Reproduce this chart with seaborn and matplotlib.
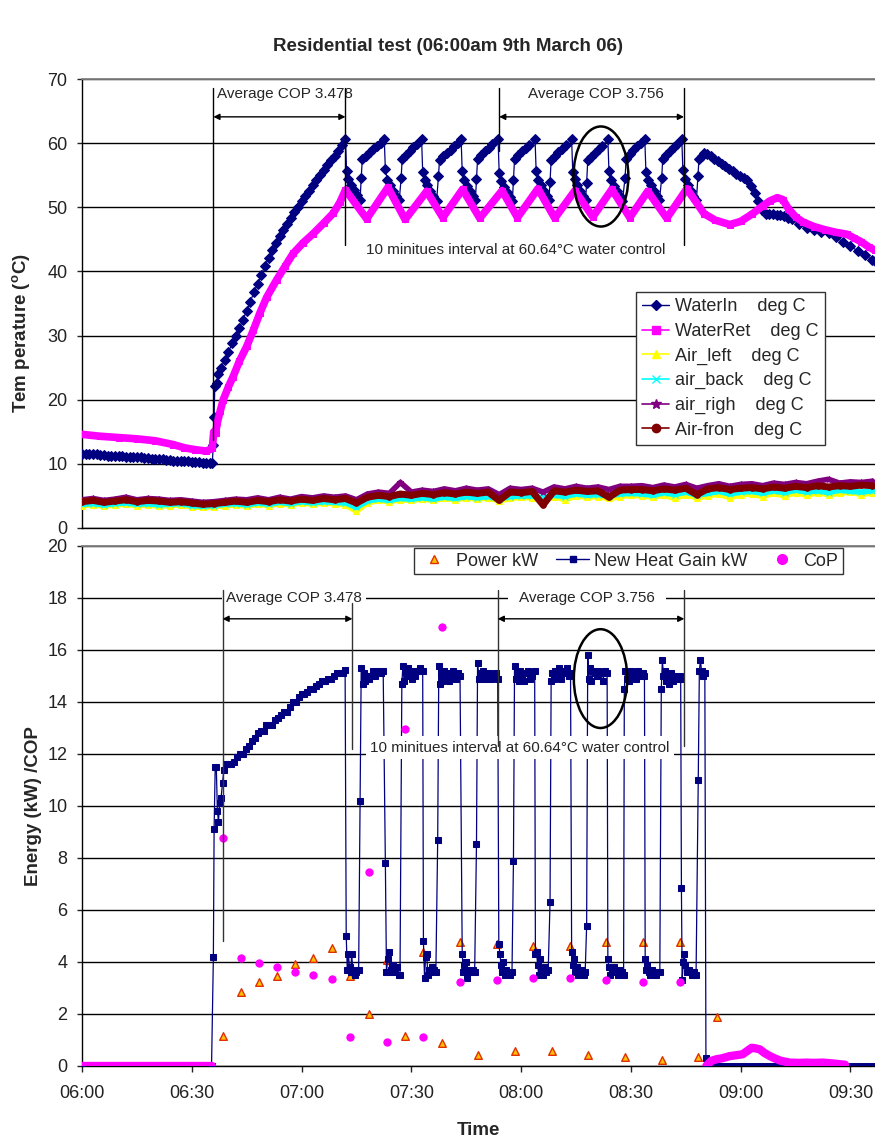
import matplotlib
matplotlib.use("Agg")
import matplotlib.pyplot as plt
import seaborn as sns
import pandas as pd
from matplotlib.patches import Ellipse
from matplotlib.lines import Line2D
from matplotlib.ticker import FuncFormatter, MultipleLocator

# ---------------- data (time = minutes after 06:00) ----------------
water_in = [
    (0, 11.6), (1, 11.6), (2, 11.5), (3, 11.5), (4, 11.5), (5, 11.4), (6, 11.4), (7, 11.3), (8, 11.3),
    (9, 11.3), (10, 11.2), (11, 11.2), (12, 11.1), (13, 11.1), (14, 11.0), (15, 11.0), (16, 11.0),
    (17, 10.9), (18, 10.9), (19, 10.8), (20, 10.8), (21, 10.7), (22, 10.7), (23, 10.6), (24, 10.6),
    (25, 10.5), (26, 10.5), (27, 10.4), (28, 10.4), (29, 10.4), (30, 10.3), (31, 10.3), (32, 10.3),
    (33, 10.2), (34, 10.2), (35, 10.2), (35.6, 10.2),
    (35.9, 13.0), (36.1, 17.3), (36.3, 22.2), (36.8, 22.6), (37.2, 24.0), (38, 25.0), (39, 26.2),
    (40, 27.4), (41, 28.8), (42, 30.0), (43, 31.2), (44, 32.5), (45, 33.9), (46, 35.3), (47, 36.8),
    (48, 38.1), (49, 39.5), (50, 40.9), (51, 42.1), (52, 43.3), (53, 44.4), (54, 45.5), (55, 46.5),
    (56, 47.4), (57, 48.3), (58, 49.2), (59, 50.1), (60, 51.0), (61, 51.8), (62, 52.6), (63, 53.4),
    (64, 54.2), (65, 55.0), (66, 55.8), (67, 56.6), (68, 57.3), (69, 58.0), (70, 58.8), (71, 59.7),
    (72, 60.6),
    (72.3, 55.6), (72.8, 54.4), (73.6, 53.5), (74.4, 52.7), (75.2, 51.9), (76.0, 51.2), (76.3, 54.6),
    (76.6, 57.5), (77.6, 58.0), (78.6, 58.6), (79.6, 59.1), (80.6, 59.6), (81.6, 60.1), (82.6, 60.6),
    (82.9, 55.9), (83.4, 54.3), (84.2, 53.4), (85.0, 52.6), (85.8, 51.8), (86.7, 51.1), (87.2, 54.5),
    (87.5, 57.6), (88.5, 58.2), (89.5, 58.8), (90.5, 59.4), (91.5, 59.9), (92.8, 60.6),
    (93.1, 55.5), (93.6, 54.3), (94.4, 53.4), (95.2, 52.5), (96.0, 51.8), (96.9, 51.0), (97.4, 54.8),
    (97.7, 57.4), (98.7, 58.0), (99.7, 58.5), (100.7, 59.0), (101.7, 59.6), (102.7, 60.1), (103.6, 60.6),
    (103.9, 55.6), (104.4, 54.2), (105.2, 53.3), (106.0, 52.5), (106.8, 51.7), (107.5, 51.1), (107.8, 54.4),
    (108.1, 57.6), (109.1, 58.2), (110.1, 58.8), (111.1, 59.3), (112.1, 59.8), (113.7, 60.6),
    (114.0, 55.4), (114.5, 54.1), (115.3, 53.2), (116.1, 52.4), (116.9, 51.6), (117.6, 51.0), (117.9, 54.3),
    (118.2, 57.5), (119.2, 58.1), (120.2, 58.7), (121.2, 59.2), (122.2, 59.7), (123.8, 60.6),
    (124.1, 55.7), (124.6, 54.3), (125.4, 53.4), (126.2, 52.6), (127.0, 51.7), (127.6, 51.2), (127.9, 54.0),
    (128.2, 57.4), (129.2, 58.0), (130.2, 58.6), (131.2, 59.1), (132.2, 59.7), (133.8, 60.6),
    (134.1, 55.5), (134.6, 54.4), (135.4, 53.4), (136.2, 52.6), (137.0, 51.8), (137.6, 51.1), (137.9, 53.8),
    (138.2, 57.3), (139.2, 57.9), (140.2, 58.5), (141.2, 59.1), (142.2, 59.6), (143.7, 60.6),
    (144.0, 55.6), (144.5, 54.2), (145.3, 53.3), (146.1, 52.5), (146.9, 51.7), (147.7, 51.0), (148.4, 54.6),
    (148.7, 57.6), (149.7, 58.3), (150.7, 58.9), (151.7, 59.5), (152.7, 60.0), (153.8, 60.6),
    (154.1, 55.5), (154.6, 54.3), (155.4, 53.4), (156.2, 52.6), (157.0, 51.8), (157.8, 51.1), (158.4, 54.5),
    (158.7, 57.6), (159.7, 58.2), (160.7, 58.8), (161.7, 59.4), (162.7, 59.9), (163.9, 60.6),
    (164.2, 55.8), (164.7, 54.4), (165.5, 53.5), (166.3, 52.6), (167.1, 51.8), (167.9, 51.1), (168.3, 54.8),
    (168.6, 57.5), (169.3, 58.0), (170.0, 58.4), (170.8, 58.3), (171.8, 58.0), (172.8, 57.6), (173.8, 57.2),
    (174.8, 56.8), (175.8, 56.4), (176.8, 56.0), (177.8, 55.6), (178.8, 55.2), (179.8, 54.8), (180.8, 54.5),
    (181.8, 54.2), (182.8, 53.3), (183.8, 52.2), (184.8, 51.0), (185.8, 49.5), (186.8, 49.0), (187.8, 48.9),
    (188.8, 48.9), (189.8, 48.8), (190.8, 48.8), (191.8, 48.7), (192.8, 48.4), (194, 48.1), (196, 47.4),
    (198, 46.8), (200, 46.4), (202, 46.2), (204, 46.0), (206, 45.3), (208, 44.6), (210, 43.9),
    (212, 43.2), (214, 42.5), (216, 41.8), (216.7, 41.6),
]

water_ret = [
    (0, 14.6), (5, 14.3), (10, 14.1), (15, 13.9), (20, 13.6), (25, 13.0), (28, 12.5), (31, 12.2),
    (34, 12.0), (35.6, 12.4), (36.0, 15.0), (36.5, 14.8), (37.0, 16.5), (37.8, 18.3), (38.6, 20.0),
    (40.0, 22.0), (41.3, 23.6), (43.0, 26.0), (45.0, 28.3), (46.8, 30.8), (48.6, 33.5), (50.5, 36.0),
    (53.2, 38.7), (55.5, 40.8), (57.7, 42.8), (60.5, 44.5), (63.2, 45.9), (66.0, 47.5), (68.7, 49.1),
    (70.5, 50.8), (72.0, 52.7),
    (77.8, 48.2), (83.6, 53.1), (88.3, 48.1), (94.2, 52.5), (98.6, 48.4), (104.0, 52.8), (108.7, 48.3),
    (114.8, 52.6), (119.0, 48.4), (124.6, 52.9), (129.2, 48.3), (134.7, 52.6), (139.6, 48.5),
    (144.8, 52.8), (149.7, 48.4), (154.6, 52.5), (159.8, 48.3), (165.3, 52.9),
    (170, 49.0), (173, 48.0), (177, 47.3), (180, 47.8), (183, 48.9), (186, 50.2), (188, 51.0),
    (190, 51.5), (191.5, 51.2), (193, 49.8), (195, 48.5), (197, 47.7), (200, 47.0), (203, 46.5),
    (206, 46.1), (209, 45.8), (211, 45.2), (213, 44.6), (215, 43.8), (216.7, 43.3),
]

air_time = list(range(0, 217, 3))
air_left = [3.5, 3.6, 3.4, 3.6, 3.7, 3.5, 3.6, 3.4, 3.5, 3.6, 3.3,
            3.2, 3.3, 3.5, 3.6, 3.4, 3.7, 3.5, 3.8, 3.6, 3.9,
            3.7, 3.9, 3.8, 3.6, 2.6, 3.9, 4.3, 4.1, 4.4, 4.3,
            4.5, 4.3, 4.6, 4.4, 4.7, 4.5, 4.7, 4.2, 4.6, 4.8,
            4.7, 4.5, 4.9, 4.4, 5.0, 4.8, 4.9, 4.6, 4.9, 5.1,
            5.0, 4.8, 5.1, 4.6, 5.2, 4.7, 5.0, 5.3, 4.7, 5.2,
            5.3, 4.9, 5.4, 5.0, 5.5, 5.1, 5.5, 5.2, 5.4, 5.6, 5.2, 5.5]
air_back = [3.7, 3.8, 3.6, 3.8, 3.9, 3.7, 3.8, 3.6, 3.7, 3.8, 3.5,
            3.4, 3.5, 3.7, 3.8, 3.6, 3.9, 3.7, 4.0, 3.8, 4.1,
            3.9, 4.1, 4.0, 3.9, 3.2, 4.2, 4.5, 4.3, 4.6, 4.5,
            4.7, 4.5, 4.8, 4.6, 4.9, 4.7, 4.9, 4.5, 4.9, 5.0,
            5.0, 4.7, 5.1, 4.9, 5.3, 5.1, 5.2, 5.0, 5.3, 5.4,
            5.3, 5.1, 5.5, 5.2, 5.6, 5.1, 5.4, 5.7, 5.3, 5.6,
            5.7, 5.4, 5.8, 5.5, 5.9, 5.6, 5.8, 5.5, 5.9, 5.7, 5.6, 5.8]
air_righ = [4.4, 4.6, 4.3, 4.5, 4.8, 4.4, 4.6, 4.5, 4.3, 4.4, 4.2,
            4.0, 4.1, 4.3, 4.5, 4.4, 4.7, 4.4, 4.8, 4.5, 4.9,
            4.7, 5.0, 4.8, 5.0, 4.4, 5.3, 5.6, 5.4, 7.1, 5.6,
            5.9, 5.7, 6.1, 5.8, 6.2, 5.9, 6.1, 5.2, 6.2, 6.0,
            6.2, 5.6, 6.4, 6.1, 6.5, 6.2, 6.4, 6.0, 6.5, 6.5,
            6.6, 6.3, 6.7, 6.4, 6.8, 6.2, 6.6, 6.9, 6.5, 6.8,
            6.9, 6.6, 7.0, 6.8, 7.1, 6.9, 7.3, 7.6, 7.0, 7.2, 7.1, 7.3]
air_fron = [4.1, 4.3, 4.0, 4.2, 4.4, 4.1, 4.3, 4.2, 4.0, 4.1, 3.9,
            3.7, 3.8, 4.0, 4.2, 4.0, 4.3, 4.1, 4.4, 4.2, 4.5,
            4.3, 4.6, 4.4, 4.6, 3.9, 4.8, 5.1, 4.9, 5.3, 5.1,
            5.4, 5.2, 5.5, 5.3, 5.6, 5.4, 5.6, 4.3, 5.6, 5.5,
            5.7, 3.6, 5.8, 5.6, 5.9, 5.7, 5.8, 4.8, 5.9, 6.0,
            6.0, 5.8, 6.1, 5.9, 6.2, 5.2, 6.1, 6.3, 6.0, 6.2,
            6.3, 6.1, 6.4, 6.2, 6.5, 6.3, 6.6, 6.4, 6.6, 6.5, 6.7, 6.6]

heat_gain = [
    (0, 0.0), (35.4, 0.0), (35.9, 4.2), (36.1, 9.1), (36.4, 11.5), (36.7, 11.5), (37.0, 9.8), (37.3, 9.4),
    (37.6, 10.1), (38.0, 10.3), (38.4, 10.9), (38.8, 11.4), (39.3, 11.6), (40.0, 11.6), (40.8, 11.6),
    (41.6, 11.7), (42.4, 11.9), (43.2, 12.0), (44.0, 12.0), (44.8, 12.2), (45.6, 12.3), (46.4, 12.5),
    (47.2, 12.6), (48.0, 12.8), (48.8, 12.9), (49.6, 12.9), (50.4, 13.1), (51.2, 13.1), (52.0, 13.1),
    (52.8, 13.3), (53.6, 13.4), (54.4, 13.5), (55.2, 13.6), (56.0, 13.6), (56.8, 13.8), (57.6, 14.0),
    (58.4, 14.0), (59.2, 14.2), (60.0, 14.3), (60.8, 14.3), (61.6, 14.4), (62.4, 14.5), (63.2, 14.5),
    (64.0, 14.6), (64.8, 14.7), (65.6, 14.8), (66.4, 14.8), (67.2, 14.9), (68.0, 14.9), (68.8, 15.0),
    (69.6, 15.1), (70.4, 15.1), (71.2, 15.1), (71.9, 15.25),
    (72.2, 5.0), (72.5, 3.7), (72.8, 4.3), (73.1, 3.8), (73.4, 3.6), (73.7, 4.3), (74.0, 3.7), (74.5, 3.5),
    (75.0, 3.6), (75.6, 3.7),
    (76.0, 10.2), (76.3, 15.3), (76.7, 14.7), (77.0, 15.1), (77.4, 14.8), (77.9, 15.0), (78.4, 14.9),
    (78.9, 15.0), (79.5, 15.2), (80.2, 15.0), (80.9, 15.2), (81.6, 15.1), (82.3, 15.2),
    (82.9, 7.8), (83.2, 3.6), (83.5, 4.1), (83.8, 4.4), (84.1, 3.6), (84.5, 3.7), (85.0, 3.9), (85.5, 3.6),
    (86.0, 3.8), (86.5, 3.5), (86.9, 3.5),
    (87.4, 14.7), (87.7, 15.4), (88.0, 14.8), (88.3, 15.2), (88.7, 15.0), (89.1, 15.3), (89.6, 15.1),
    (90.1, 14.9), (90.6, 15.2), (91.1, 15.0), (91.7, 15.2), (92.4, 15.3), (93.1, 15.2),
    (93.3, 4.8), (93.6, 3.4), (93.9, 4.2), (94.2, 4.3), (94.5, 3.5), (94.8, 3.7), (95.2, 3.6), (95.7, 3.8),
    (96.2, 3.7), (96.7, 3.6),
    (97.2, 8.7), (97.5, 15.4), (97.8, 14.7), (98.1, 15.1), (98.5, 14.8), (98.9, 15.2), (99.4, 14.9),
    (99.9, 15.1), (100.4, 14.8), (100.9, 15.0), (101.5, 15.2), (102.1, 14.9), (102.7, 15.1), (103.3, 15.0),
    (103.9, 4.3), (104.2, 3.6), (104.5, 3.9), (104.9, 4.0), (105.3, 3.4), (105.8, 3.7), (106.3, 3.6),
    (106.8, 3.7), (107.3, 3.6),
    (107.8, 8.55), (108.1, 15.5), (108.4, 14.9), (108.8, 15.1), (109.2, 15.0), (109.7, 15.2), (110.2, 14.9),
    (110.7, 15.0), (111.2, 15.1), (111.8, 14.9), (112.4, 15.0), (113.0, 15.1), (113.6, 14.9),
    (113.9, 4.7), (114.2, 4.3), (114.5, 3.9), (114.8, 3.6), (115.1, 4.0), (115.5, 3.5), (116.0, 3.7),
    (116.5, 3.6), (117.0, 3.5), (117.5, 3.6),
    (117.9, 7.9), (118.2, 15.4), (118.5, 14.9), (118.9, 15.1), (119.3, 14.8), (119.8, 15.2), (120.3, 15.0),
    (120.8, 14.8), (121.3, 15.1), (121.9, 15.2), (122.5, 14.9), (123.1, 15.0), (123.7, 15.2),
    (123.9, 4.3), (124.2, 4.4), (124.5, 3.9), (124.8, 3.5), (125.1, 4.1), (125.5, 3.7), (125.9, 3.5),
    (126.4, 3.8), (126.9, 3.6), (127.4, 3.7),
    (127.9, 6.3), (128.2, 14.8), (128.5, 15.1), (128.9, 14.9), (129.3, 15.2), (129.8, 15.0), (130.3, 15.3),
    (130.8, 14.9), (131.3, 15.2), (131.9, 15.1), (132.5, 15.3), (133.1, 15.0), (133.5, 15.1),
    (133.8, 4.4), (134.1, 3.9), (134.4, 4.1), (134.8, 3.6), (135.2, 3.8), (135.6, 3.5), (136.1, 3.6),
    (136.6, 3.7), (137.1, 3.5), (137.5, 3.6),
    (137.9, 5.4), (138.2, 15.8), (138.5, 14.9), (138.8, 15.3), (139.2, 14.8), (139.6, 15.2), (140.1, 15.1),
    (140.6, 15.0), (141.1, 15.2), (141.7, 15.1), (142.3, 14.8), (142.9, 15.2), (143.5, 15.1),
    (143.7, 4.1), (144.0, 3.8), (144.3, 3.5), (144.7, 3.8), (145.1, 3.6), (145.5, 3.8), (145.9, 3.6),
    (146.4, 3.5), (146.9, 3.7), (147.5, 3.6), (148.0, 3.5),
    (148.2, 14.5), (148.5, 15.2), (148.8, 14.9), (149.1, 15.1), (149.5, 14.8), (149.9, 15.2), (150.4, 15.0),
    (150.9, 15.1), (151.4, 14.9), (152.0, 15.2), (152.6, 15.0), (153.2, 15.1), (153.7, 15.0),
    (153.9, 4.1), (154.2, 3.7), (154.5, 3.9), (154.9, 3.6), (155.3, 3.5), (155.8, 3.7), (156.3, 3.6),
    (156.8, 3.5), (157.4, 3.6), (157.9, 3.6),
    (158.3, 14.5), (158.6, 15.6), (158.9, 15.0), (159.2, 15.2), (159.6, 14.8), (160.0, 15.0), (160.5, 14.7),
    (161.0, 15.1), (161.5, 14.8), (162.1, 15.0), (162.7, 14.9), (163.3, 15.0), (163.6, 14.9),
    (163.8, 6.85), (164.0, 3.3), (164.3, 4.0), (164.6, 4.3), (164.9, 3.9), (165.3, 3.6), (165.8, 3.7),
    (166.3, 3.6), (166.8, 3.5), (167.3, 3.6), (167.8, 3.5),
    (168.4, 11.0), (168.7, 15.2), (169.0, 15.6), (169.3, 15.2), (169.6, 15.0), (170.2, 15.1),
    (170.5, 0.3), (170.8, 0.0),
]
heat_gain_tail = [(170.8, 0.0), (216.7, 0.0)]

power_time = [38.4, 43.4, 48.5, 53.4, 58.3, 63.2, 68.2, 73.2, 78.3, 83.3, 88.3, 93.3, 98.3, 103.3,
              108.3, 113.3, 118.3, 123.3, 128.3, 133.3, 138.3, 143.3, 148.3, 153.4, 158.4, 163.4,
              168.4, 173.4]
power_kw = [1.15, 2.83, 3.22, 3.45, 3.93, 4.16, 4.53, 3.45, 2.0, 4.07, 1.15, 4.4, 0.89, 4.78,
            0.41, 4.7, 0.56, 4.63, 0.56, 4.63, 0.44, 4.78, 0.34, 4.78, 0.22, 4.78, 0.34, 1.9]

cop_time = [38.4, 43.4, 48.5, 53.4, 58.3, 63.2, 68.2, 73.2, 78.3, 83.3, 88.3, 93.3, 98.3, 103.3,
            113.3, 123.3, 133.3, 143.3, 153.4, 163.4]
cop_val = [8.77, 4.16, 3.96, 3.82, 3.6, 3.49, 3.33, 1.12, 7.47, 0.93, 12.96, 1.12, 16.9, 3.22,
           3.3, 3.37, 3.37, 3.3, 3.22, 3.22]
cop_idle_start = [(0, 0.0), (35.6, 0.0)]
cop_idle_end = [(170.6, 0.0), (172, 0.2), (173.4, 0.26), (175, 0.3), (177, 0.38), (179, 0.42),
                (180.5, 0.45), (182, 0.6), (183, 0.7), (184, 0.68), (185.2, 0.64), (186.5, 0.5),
                (188, 0.38), (189.5, 0.28), (191, 0.2), (193.4, 0.13), (196, 0.12), (198, 0.13),
                (200, 0.12), (202.5, 0.13), (205, 0.1), (207, 0.07), (208.5, 0.05)]

temp_ticks = [0, 10, 20, 30, 40, 50, 60, 70]
energy_ticks = [0, 2, 4, 6, 8, 10, 12, 14, 16, 18, 20]

# ---------------- style ----------------
sns.set_style("white")
plt.rcParams['font.family'] = ['Liberation Sans', 'DejaVu Sans']
plt.rcParams['mathtext.fontset'] = 'custom'
plt.rcParams['mathtext.rm'] = 'Liberation Sans'
plt.rcParams['mathtext.bf'] = 'Liberation Sans:bold'

NAVY = '#000080'
MAG = '#FF00FF'
YEL = '#FFFF00'
CYAN = '#00FFFF'
PURP = '#800080'
DRED = '#800000'
TRI_FACE = '#FFC000'
TRI_EDGE = '#E03000'

W, H = 875, 1139
fig = plt.figure(figsize=(W / 100, H / 100), dpi=100)
ax1 = fig.add_axes([82 / W, 1 - 528 / H, 793 / W, 449 / H])
ax2 = fig.add_axes([82 / W, 1 - 1066 / H, 793 / W, 520 / H])
XMAX = 216.7


def line(ax, pts, **kw):
    df = pd.DataFrame(pts, columns=['t', 'v'])
    sns.lineplot(data=df, x='t', y='v', ax=ax, sort=False, estimator=None,
                 legend=False, **kw)


# ---------------- top panel ----------------
line(ax1, water_in, color=NAVY, lw=0.9, marker='D', markersize=5,
     markerfacecolor=NAVY, markeredgecolor=NAVY, zorder=3)
line(ax1, water_ret, color=MAG, lw=5.5, marker='s', markersize=4,
     markerfacecolor=MAG, markeredgecolor=MAG, zorder=3.1)
air_df = pd.DataFrame({'t': air_time, 'left': air_left, 'back': air_back,
                       'righ': air_righ, 'fron': air_fron})
for col, c, m, ms, lw in [('left', YEL, '^', 4, 4), ('back', CYAN, 'x', 4, 4),
                          ('righ', PURP, '*', 5, 4), ('fron', DRED, 'o', 4, 5)]:
    sns.lineplot(data=air_df, x='t', y=col, ax=ax1, color=c, lw=lw, marker=m,
                 markersize=ms, markerfacecolor=c, markeredgecolor=c,
                 estimator=None, legend=False, zorder=3)

# annotations top
ann_c = 'black'
for x, y0, y1 in [(35.9, 13.7, 68.6), (72.0, 44.1, 68.6), (114.0, 58.7, 68.6), (164.5, 44.1, 68.6)]:
    ax1.plot([x, x], [y0, y1], color=ann_c, lw=1.0, zorder=7)
for x0, x1 in [(35.9, 72.0), (114.0, 164.5)]:
    ax1.annotate('', xy=(x0, 64.1), xytext=(x1, 64.1),
                 arrowprops=dict(arrowstyle='<|-|>', color=ann_c, lw=1.0,
                                 mutation_scale=9, shrinkA=0, shrinkB=0), zorder=7)
ax1.text(36.9, 67.6, 'Average COP 3.478', fontsize=11, ha='left', va='center', zorder=6)
ax1.text(140.4, 67.6, 'Average COP 3.756', fontsize=11, ha='center', va='center', zorder=6)
ax1.text(118.5, 43.4, '10 minitues interval at 60.64°C water control', fontsize=11,
         ha='center', va='center', zorder=6)
ax1.add_patch(Ellipse((141.8, 54.8), 15.0, 15.6, fill=False, ec='black', lw=1.8, zorder=8))

# ---------------- bottom panel ----------------
sns.scatterplot(x=power_time, y=power_kw, ax=ax2, marker='^', s=30, color=TRI_FACE,
                edgecolor=TRI_EDGE, linewidth=1.0, zorder=3, legend=False)
line(ax2, heat_gain, color=NAVY, lw=0.9, marker='s', markersize=4,
     markerfacecolor=NAVY, markeredgecolor=NAVY, zorder=3.2)
line(ax2, heat_gain_tail, color=NAVY, lw=5, zorder=3.2)
sns.scatterplot(x=cop_time, y=cop_val, ax=ax2, marker='o', s=36, color=MAG,
                edgecolor=MAG, linewidth=0, zorder=3.4, legend=False)
line(ax2, cop_idle_start, color=MAG, lw=6, zorder=3.4)
line(ax2, cop_idle_end, color=MAG, lw=6, zorder=3.4)

box = dict(facecolor='white', edgecolor='none', pad=3)
for x, y0, y1 in [(38.4, 4.8, 18.3), (73.9, 12.2, 17.8), (113.6, 12.3, 18.3), (164.6, 12.3, 18.3)]:
    ax2.plot([x, x], [y0, y1], color='#333333', lw=1.0, zorder=7)
for x0, x1 in [(38.4, 73.9), (113.6, 164.6)]:
    ax2.annotate('', xy=(x0, 17.2), xytext=(x1, 17.2),
                 arrowprops=dict(arrowstyle='<|-|>', color=ann_c, lw=1.0,
                                 mutation_scale=9, shrinkA=0, shrinkB=0), zorder=7)
ax2.text(39.3, 18.0, 'Average COP 3.478', fontsize=11, ha='left', va='center',
         zorder=6, bbox=box)
ax2.text(137.9, 18.0, 'Average COP 3.756', fontsize=11, ha='center', va='center',
         zorder=6, bbox=dict(facecolor='white', edgecolor='none', pad=8))
ax2.text(119.7, 12.25, '10 minitues interval at 60.64°C water control', fontsize=11,
         ha='center', va='center', zorder=6, bbox=box)
ax2.add_patch(Ellipse((141.7, 14.9), 14.6, 3.8, fill=False, ec='black', lw=1.8, zorder=8))

# ---------------- axes styling ----------------
fmt = FuncFormatter(lambda m, p: f"{6 + int(round(m)) // 60:02d}:{int(round(m)) % 60:02d}")
for ax, ticks in [(ax1, temp_ticks), (ax2, energy_ticks)]:
    ax.set_xlim(0, XMAX)
    ax.set_ylim(ticks[0], ticks[-1])
    ax.set_yticks(ticks)
    ax.set_axisbelow(True)
    ax.yaxis.grid(True, color='black', lw=1.0)
    ax.xaxis.grid(False)
    ax.spines['right'].set_visible(False)
    ax.spines['top'].set_color('#808080')
    ax.spines['top'].set_linewidth(1.3)
    ax.spines['left'].set_color('black')
    ax.spines['bottom'].set_color('black')
    ax.spines['left'].set_linewidth(1.0)
    ax.spines['bottom'].set_linewidth(1.0)
    ax.tick_params(axis='y', direction='out', length=3.5, width=1, pad=7,
                   labelsize=13, colors='#222222', left=True)
    ax.set_xlabel('')

ax1.tick_params(axis='x', bottom=False, labelbottom=False)
ax2.xaxis.set_major_locator(MultipleLocator(30))
ax2.xaxis.set_major_formatter(fmt)
ax2.tick_params(axis='x', direction='out', length=4, width=1, pad=10,
                labelsize=13, colors='#222222', bottom=True)

ax1.set_ylabel(r'Tem perature ($^{\mathbf{o}}$C)', fontsize=13.5, fontweight='bold')
ax1.yaxis.set_label_coords(-0.062, 0.434)
ax2.set_ylabel('Energy (kW) /COP', fontsize=13.5, fontweight='bold')
ax2.yaxis.set_label_coords(-0.050, 0.5)
ax2.set_xlabel('Time', fontsize=13.5, fontweight='bold')
ax2.xaxis.set_label_coords(0.5, -0.108)
ax2.xaxis.label.set_va('top')

fig.text(0.512, 0.959, 'Residential test (06:00am 9th March 06)', ha='center', va='center',
         fontsize=13.5, fontweight='bold',
         family=['Liberation Sans Narrow', 'Liberation Sans', 'DejaVu Sans'])

# ---------------- legends ----------------
h1 = [Line2D([], [], color=NAVY, lw=1, marker='D', ms=5, mfc=NAVY, mec=NAVY),
      Line2D([], [], color=MAG, lw=1.2, marker='s', ms=6, mfc=MAG, mec=MAG),
      Line2D([], [], color=YEL, lw=1.2, marker='^', ms=6, mfc=YEL, mec=YEL),
      Line2D([], [], color=CYAN, lw=1.2, marker='x', ms=6, mfc=CYAN, mec=CYAN),
      Line2D([], [], color=PURP, lw=1.2, marker='*', ms=7, mfc=PURP, mec=PURP),
      Line2D([], [], color=DRED, lw=1.2, marker='o', ms=6, mfc=DRED, mec=DRED)]
l1 = ['WaterIn    deg C', 'WaterRet    deg C', 'Air_left    deg C',
      'air_back    deg C', 'air_righ    deg C', 'Air-fron    deg C']
leg1 = ax1.legend(h1, l1, loc='upper left', bbox_to_anchor=(636 / W, 1 - 292 / H),
                  bbox_transform=fig.transFigure, fontsize=13, frameon=True, fancybox=False,
                  framealpha=1, edgecolor='#333333', borderaxespad=0, borderpad=0.35,
                  labelspacing=0.42, handlelength=1.5, handletextpad=0.3)
leg1.get_frame().set_linewidth(1.0)
leg1.set_zorder(10)

h2 = [Line2D([], [], lw=0, marker='^', ms=6, mfc=TRI_FACE, mec=TRI_EDGE),
      Line2D([], [], color=NAVY, lw=1, marker='s', ms=5, mfc=NAVY, mec=NAVY),
      Line2D([], [], lw=0, marker='o', ms=7, mfc=MAG, mec=MAG)]
l2 = ['Power kW', 'New Heat Gain kW', 'CoP']
leg2 = ax2.legend(h2, l2, loc='upper right', ncol=3, bbox_to_anchor=(843 / W, 1 - 548 / H),
                  bbox_transform=fig.transFigure, fontsize=13, frameon=True, fancybox=False,
                  framealpha=1, edgecolor='#333333', borderaxespad=0, borderpad=0.25,
                  handlelength=1.8, handletextpad=0.3, columnspacing=1.0)
leg2.get_frame().set_linewidth(1.0)
leg2.set_zorder(10)

fig.savefig('out.png', dpi=100)
